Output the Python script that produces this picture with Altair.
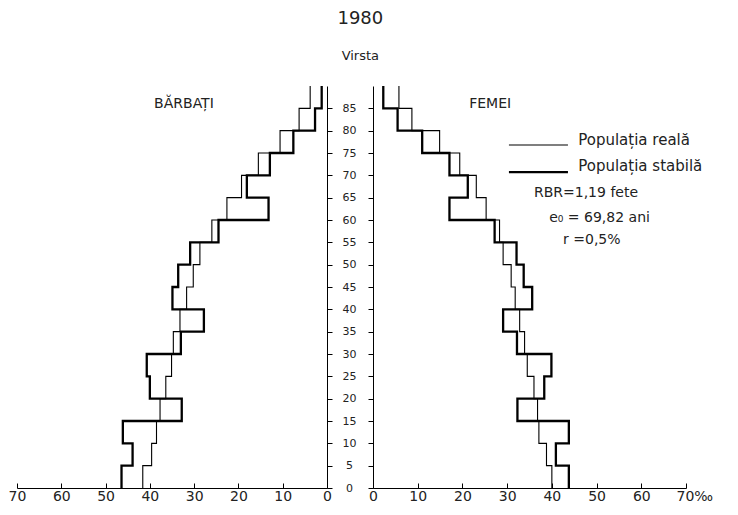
import altair as alt
import pandas as pd

# ---- data (per mille, 5-year age groups) ----
age_groups = [0, 5, 10, 15, 20, 25, 30, 35, 40, 45, 50, 55, 60, 65, 70, 75, 80, 85]
age_top = 90

men_reala = [41.6, 39.6, 38.5, 37.7, 36.4, 35.1, 34.7, 33.2, 31.7, 30.2, 28.7, 26.0,
             22.6, 19.3, 15.5, 10.6, 6.3, 3.8]
men_stabila = [46.4, 43.9, 46.1, 32.8, 40.0, 40.7, 33.0, 27.8, 34.9, 33.6, 30.9, 24.5,
               13.2, 18.1, 12.9, 7.6, 2.7, 1.2]
women_reala = [40.0, 38.8, 37.1, 36.8, 36.0, 34.5, 33.9, 32.8, 31.8, 30.9, 29.1, 28.3,
               25.3, 23.1, 19.4, 14.9, 8.7, 5.8]
women_stabila = [43.8, 40.9, 43.8, 32.3, 38.3, 39.9, 32.2, 29.1, 35.6, 33.7, 32.1, 27.2,
                 17.1, 21.2, 17.1, 11.0, 5.5, 2.3]

series_names = ["Populația reală", "Populația stabilă"]
x_ticks = [0, 10, 20, 30, 40, 50, 60, 70]
y_ticks = list(range(0, 90, 5))

FONT = "DejaVu Sans"
INK = "#222222"


def step_table(reala, stabila):
    rows = []
    for name, vals in zip(series_names, [reala, stabila]):
        for a, v in zip(age_groups, vals):
            rows.append({"series": name, "age": a, "val": v})
        rows.append({"series": name, "age": age_top, "val": vals[-1]})
    return pd.DataFrame(rows)


df_m = step_table(men_reala, men_stabila)
df_f = step_table(women_reala, women_stabila)

width_scale = alt.Scale(domain=series_names, range=[1.1, 2.3])
yscale = alt.Scale(domain=[0, 90], nice=False, zero=True)


def x_axis(is_right):
    r = "true" if is_right else "false"
    return alt.Axis(values=x_ticks, title=None, grid=False,
                    tickSize={"expr": "-5"}, labelPadding=6,
                    labelFontSize=14, labelFont=FONT, labelColor=INK,
                    domainColor="black", tickColor="black",
                    labelOverlap=False,
                    labelExpr="datum.value == 70 && %s ? '70‰' : datum.label" % r,
                    labelAlign={"condition": {"test": "datum.value == 70 && %s" % r, "value": "left"}, "value": "center"},
                    labelOffset={"condition": {"test": "datum.value == 70 && %s" % r, "value": -10}, "value": 0})


men_axis = alt.Axis(orient="right", values=y_ticks, title=None, grid=False,
                    tickSize=5, labelAlign="center", labelPadding=17,
                    labelFontSize=11, labelFont=FONT, labelColor=INK,
                    labelOverlap=False, labelSeparation=0, labelBound=False,
                    domainColor="black", tickColor="black")
women_axis = alt.Axis(orient="left", values=y_ticks, title=None, grid=False,
                      tickSize=5, labels=False,
                      domainColor="black", tickColor="black")


def panel_xy(is_right):
    xs = alt.Scale(domain=[0, 70], nice=False, reverse=not is_right)
    yax = women_axis if is_right else men_axis
    return xs, x_axis(is_right), yax


def lines(df, is_right):
    xs, xax, yax = panel_xy(is_right)
    return alt.Chart(df).mark_line(interpolate="step-before", color="black").encode(
        x=alt.X("val:Q", scale=xs, axis=xax),
        y=alt.Y("age:Q", scale=yscale, axis=yax),
        strokeWidth=alt.StrokeWidth("series:N", scale=width_scale, legend=None),
        detail="series:N",
        order=alt.Order("age:Q"),
    )


def txt(df, size, is_right, align="center"):
    xs, xax, yax = panel_xy(is_right)
    return alt.Chart(df).mark_text(font=FONT, fontSize=size, color=INK, align=align).encode(
        x=alt.X("val:Q", scale=xs, axis=xax),
        y=alt.Y("age:Q", scale=yscale, axis=yax),
        text="txt:N")


# ---- left panel (men) ----
men_label = pd.DataFrame({"val": [32.3], "age": [86.0], "txt": ["BĂRBAȚI"]})
left = alt.layer(
    lines(df_m, False),
    txt(men_label, 14, False),
).properties(width=310, height=402)

# ---- right panel (women) ----
women_label = pd.DataFrame({"val": [26.2], "age": [86.0], "txt": ["FEMEI"]})

legend_rules = pd.DataFrame({
    "series": series_names,
    "val": [30.4, 30.4], "val2": [43.6, 43.6],
    "age": [76.8, 70.7],
})
legend_text = pd.DataFrame({
    "txt": series_names,
    "val": [45.9, 45.9],
    "age": [78.0, 72.0],
})
stats_text = pd.DataFrame({
    "txt": ["RBR=1,19 fete", "e₀ = 69,82 ani", "r =0,5%"],
    "val": [36.0, 39.4, 42.5],
    "age": [66.0, 60.4, 55.6],
})

xs_r, xax_r, yax_r = panel_xy(True)
right = alt.layer(
    lines(df_f, True),
    txt(women_label, 14, True),
    alt.Chart(legend_rules).mark_rule(color="black").encode(
        x=alt.X("val:Q", scale=xs_r, axis=xax_r), x2="val2:Q",
        y=alt.Y("age:Q", scale=yscale, axis=yax_r),
        strokeWidth=alt.StrokeWidth("series:N", scale=width_scale, legend=None)),
    txt(legend_text, 15, True, "left"),
    txt(stats_text, 14, True, "left"),
).properties(width=313, height=402)

chart = alt.hconcat(left, right, spacing=11).properties(
    title=alt.Title("1980", subtitle="Virsta", fontSize=18, subtitleFontSize=13,
                    font=FONT, subtitleFont=FONT, color=INK, subtitleColor=INK,
                    fontWeight="normal", subtitlePadding=22, offset=18, anchor="middle"),
    padding={"left": 0, "top": 2, "right": 5, "bottom": 0},
).configure_view(stroke=None).configure_axis(labelFlush=False, labelOverlap=False)

chart.save("out.html", embed_options={"renderer": "svg", "actions": False})
